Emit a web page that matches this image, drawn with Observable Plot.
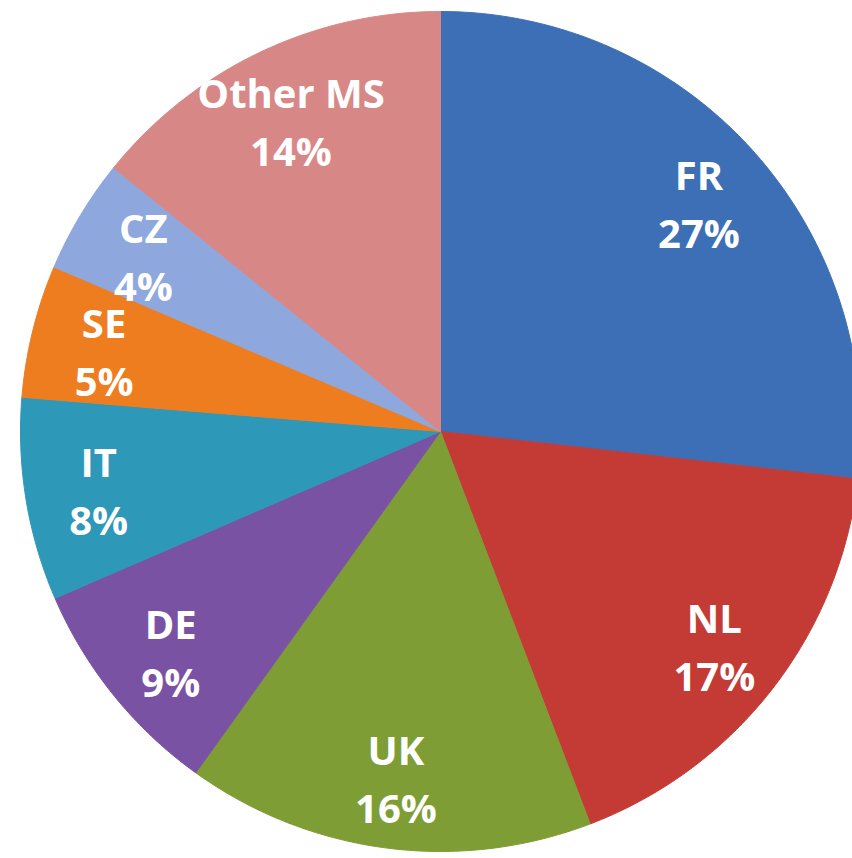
<!DOCTYPE html>
<html>
<head>
<meta charset="utf-8">
<script src="https://cdn.jsdelivr.net/npm/d3@7"></script>
<script src="https://cdn.jsdelivr.net/npm/@observablehq/plot@0.6"></script>
<style>
  html, body { margin: 0; padding: 0; background: #fff; }
  #chart { width: 852px; height: 858px; overflow: hidden; }
</style>
</head>
<body>
<div id="chart"></div>
<script>
const categories = ["FR", "NL", "UK", "DE", "IT", "SE", "CZ", "Other MS"];
// shares (labels show the rounded percentages)
const shares = [26.8, 17.4, 15.7, 8.6, 7.8, 5.1, 4.4, 14.2];
const labels = ["FR\n27%", "NL\n17%", "UK\n16%", "DE\n9%", "IT\n8%", "SE\n5%", "CZ\n4%", "Other MS\n14%"];
const colors = ["#3d6fb6", "#c43b36", "#7f9d35", "#7a52a4", "#2e98b8", "#ee7d20", "#8ea7dd", "#d88787"];

const data = categories.map((c, i) => ({ category: c, value: shares[i], label: labels[i] }));
const arcs = d3.pie().sort(null).value(d => d.value)(data);

// polygon points for each slice (angle from 12 o'clock, clockwise)
const slicePts = [];
arcs.forEach(a => {
  const n = Math.max(2, Math.ceil((a.endAngle - a.startAngle) / 0.01));
  slicePts.push({ category: a.data.category, x: 0, y: 0 });
  for (let k = 0; k <= n; k++) {
    const t = a.startAngle + (a.endAngle - a.startAngle) * k / n;
    slicePts.push({ category: a.data.category, x: Math.sin(t), y: Math.cos(t) });
  }
  slicePts.push({ category: a.data.category, x: 0, y: 0 });
});

const labelPts = arcs.map(a => {
  const m = (a.startAngle + a.endAngle) / 2;
  const r = 0.825;
  return { category: a.data.category, label: a.data.label, x: r * Math.sin(m), y: r * Math.cos(m) };
});

const chart = Plot.plot({
  width: 852,
  height: 858,
  margin: 0,
  x: { domain: [-1, 1], range: [20, 860], axis: null },
  y: { domain: [-1, 1], range: [851, 11], axis: null },
  color: { domain: categories, range: colors },
  marks: [
    Plot.line(slicePts, { x: "x", y: "y", z: "category", fill: "category", stroke: "category", strokeWidth: 1, curve: "linear" }),
    Plot.text(labelPts, {
      x: "x", y: "y", text: "label",
      fill: "white", fontSize: 40, fontWeight: "bold",
      fontFamily: "'Open Sans', Lato, sans-serif", lineHeight: 1.45
    })
  ]
});
document.getElementById("chart").appendChild(chart);
</script>
</body>
</html>
